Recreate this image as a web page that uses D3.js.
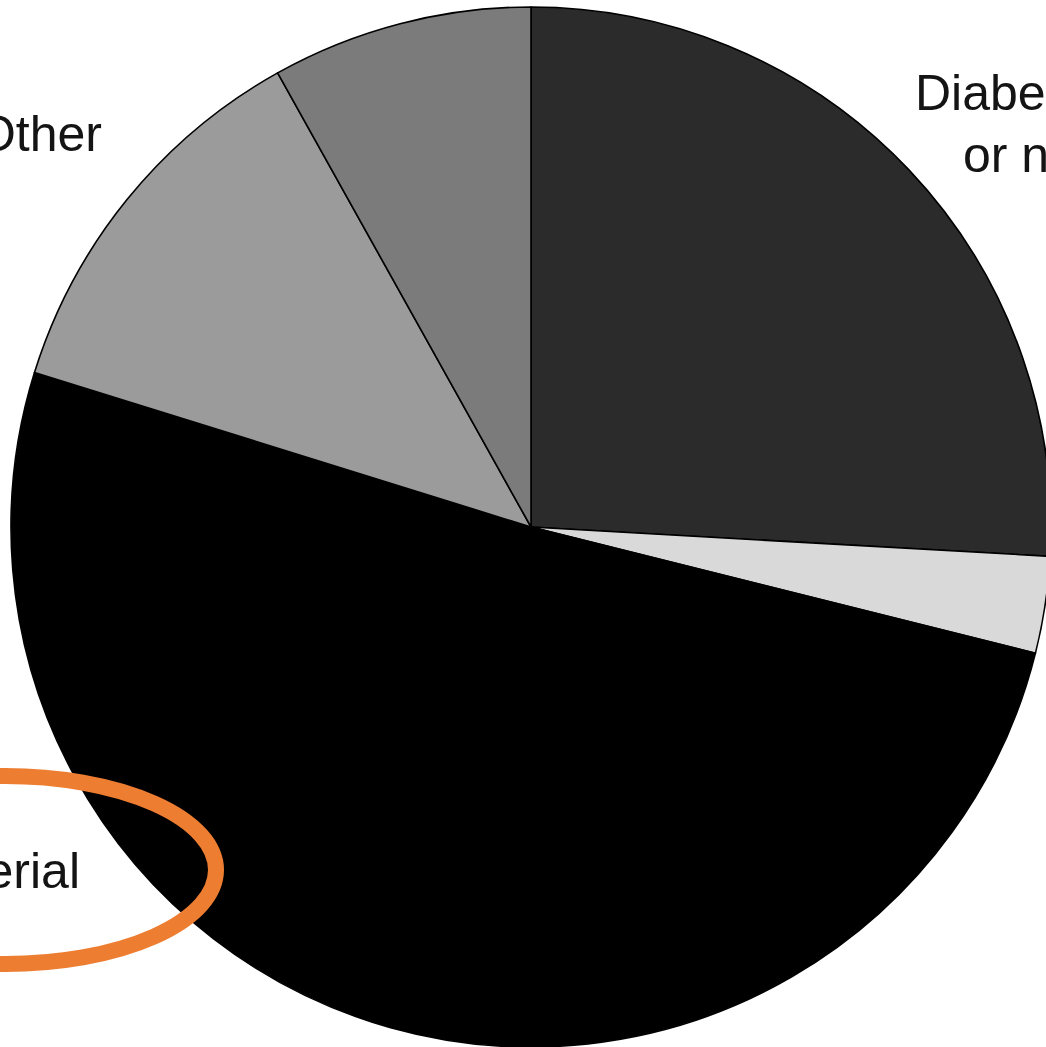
<!DOCTYPE html>
<html>
<head>
<meta charset="utf-8">
<script src="https://cdn.jsdelivr.net/npm/d3@7"></script>
<style>
  html, body { margin: 0; padding: 0; background: #fff; }
  svg { display: block; }
</style>
</head>
<body>
<svg id="chart" width="1046" height="1047"></svg>
<script>
// Share of cases by cause (%), clockwise from 12 o'clock
const categories = ["Diabetes or neuropathy", "Trauma", "Arterial", "Other", "Tumour"];
const shares = [25.9, 3.0, 50.9, 12.1, 8.1];
const fills = ["#2b2b2b", "#d9d9d9", "#000000", "#9b9b9b", "#7b7b7b"];

// Labels that fall inside the frame
const labelLines = {
  "Diabetes or neuropathy": ["Diabetes", "or neuropathy"],
  "Other": ["Other"],
  "Arterial": ["Arterial"]
};

const svg = d3.select("#chart");
const cx = 531, cy = 527, radius = 520;

const data = categories.map((c, i) => ({ name: c, value: shares[i], fill: fills[i] }));

const pie = d3.pie().value(d => d.value).sort(null);
const arc = d3.arc().innerRadius(0).outerRadius(radius);

const g = svg.append("g").attr("transform", `translate(${cx},${cy})`);
g.selectAll("path")
  .data(pie(data))
  .join("path")
  .attr("d", arc)
  .attr("fill", d => d.data.fill)
  .attr("stroke", "#000")
  .attr("stroke-width", 1.6)
  .attr("stroke-linejoin", "round");

// Category labels
const font = "'Liberation Sans', Arial, sans-serif";
const labels = svg.append("g")
  .attr("font-family", font)
  .attr("font-size", 50)
  .attr("fill", "#141414");

labels.append("text").attr("x", 915).attr("y", 110).text(labelLines["Diabetes or neuropathy"][0]);
labels.append("text").attr("x", 963).attr("y", 172).text(labelLines["Diabetes or neuropathy"][1]);
labels.append("text").attr("x", 102).attr("y", 151).attr("text-anchor", "end").text(labelLines["Other"][0]);
labels.append("text").attr("x", 80).attr("y", 888).attr("text-anchor", "end").text(labelLines["Arterial"][0]);

// Highlight ring around the arterial label
svg.append("ellipse")
  .attr("cx", 5).attr("cy", 870)
  .attr("rx", 211).attr("ry", 94)
  .attr("fill", "none")
  .attr("stroke", "#ed7d31")
  .attr("stroke-width", 16);
</script>
</body>
</html>
